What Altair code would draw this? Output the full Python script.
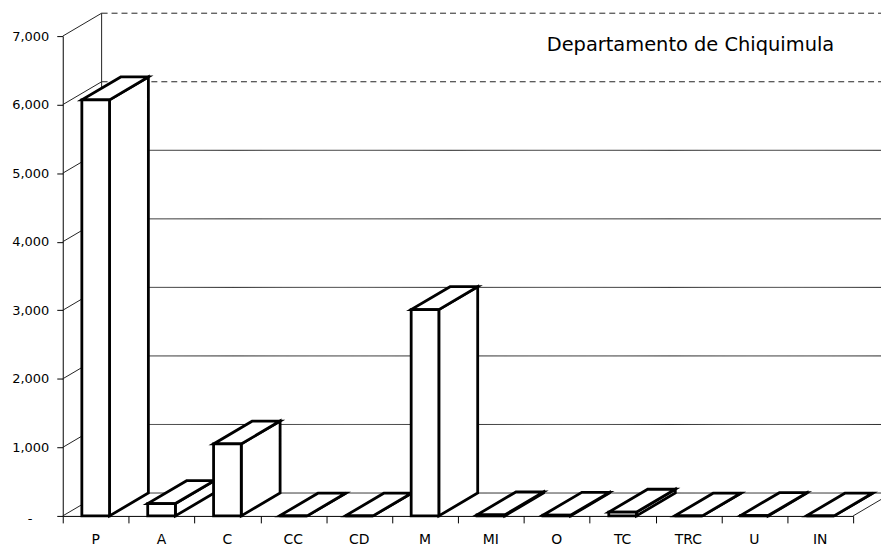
import altair as alt
import pandas as pd

# ---- data ----
categories = ["P", "A", "C", "CC", "CD", "M", "MI", "O", "TC", "TRC", "U", "IN"]
values = [6070, 180, 1050, 0, 0, 3010, 15, 10, 55, 0, 5, 0]
y_ticks = [0, 1000, 2000, 3000, 4000, 5000, 6000, 7000]
title_text = "Departamento de Chiquimula"

# ---- 3D style constants (depth expressed in scale units) ----
DX = 0.59      # depth along x (category units)
DY = 334       # depth along y (value units)
HW = 0.21      # half width of a bar front face (category units)
NCAT = len(categories)
YMAX = 7000

FONT = "DejaVu Sans"

xs = alt.Scale(domain=[0, NCAT], nice=False, zero=False)
ys = alt.Scale(domain=[0, YMAX], nice=False, zero=False)

x_axis = alt.Axis(values=list(range(NCAT + 1)), labels=False, tickSize=7,
                  tickColor="black", domainColor="black", domainWidth=1,
                  tickWidth=1, grid=False, title=None)
y_axis = alt.Axis(values=y_ticks, tickSize=6,
                  labelPadding=alt.condition("datum.value == 0", alt.value(25), alt.value(8)),
                  labelOffset=alt.condition("datum.value == 0", alt.value(3), alt.value(0)),
                  labelExpr="datum.value == 0 ? '-' : format(datum.value, ',')",
                  labelFont=FONT, labelFontSize=13, labelColor="black",
                  tickColor="black", domainColor="black", domainWidth=1,
                  grid=False, title=None)

# ---- tables built from the arrays ----
bars = pd.DataFrame({"name": categories, "value": values, "i": range(NCAT)})
bars["xl"] = bars["i"] + 0.5 - HW
bars["xr"] = bars["i"] + 0.5 + HW
bars["xc"] = bars["i"] + 0.5
bars["zero"] = 0

side_rows, top_rows = [], []
for name, v, xl, xr in zip(bars["name"], bars["value"], bars["xl"], bars["xr"]):
    side_rows.append({"name": name, "x": xr, "y": v, "y2": 0})
    side_rows.append({"name": name, "x": xr + DX, "y": v + DY, "y2": DY})
    top_rows.append({"name": name, "y": v, "x": xl, "x2": xr})
    top_rows.append({"name": name, "y": v + DY, "x": xl + DX, "x2": xr + DX})
side = pd.DataFrame(side_rows)
top = pd.DataFrame(top_rows)

walls = pd.DataFrame({"v": y_ticks})
walls["vb"] = walls["v"] + DY
walls["x0"] = 0.0
walls["xb"] = DX
walls["xe"] = NCAT + DX + 0.2

LINE = "#222222"

# back-wall gridlines
back_grid = alt.Chart(walls).mark_rule(color=LINE, strokeWidth=1).encode(
    x=alt.X("xb:Q", scale=xs, axis=x_axis),
    x2="xe:Q",
    y=alt.Y("vb:Q", scale=ys, axis=y_axis),
    strokeDash=alt.condition("datum.v >= 6000", alt.value([6, 4]), alt.value([1, 0])),
)

# left-wall diagonals at each tick
left_diag = alt.Chart(walls).mark_rule(color=LINE, strokeWidth=1).encode(
    x=alt.X("x0:Q", scale=xs, axis=x_axis),
    x2="xb:Q",
    y=alt.Y("v:Q", scale=ys, axis=y_axis),
    y2="vb:Q",
)

# back-left vertical edge of the wall
edge = pd.DataFrame({"x": [DX], "y": [DY], "y2": [YMAX + DY]})
left_back = alt.Chart(edge).mark_rule(color=LINE, strokeWidth=1).encode(
    x=alt.X("x:Q", scale=xs, axis=x_axis),
    y=alt.Y("y:Q", scale=ys, axis=y_axis),
    y2="y2:Q",
)

# floor right diagonal
floor = pd.DataFrame({"x": [float(NCAT)], "x2": [NCAT + DX], "y": [0], "y2": [DY]})
floor_diag = alt.Chart(floor).mark_rule(color=LINE, strokeWidth=1).encode(
    x=alt.X("x:Q", scale=xs, axis=x_axis),
    x2="x2:Q",
    y=alt.Y("y:Q", scale=ys, axis=y_axis),
    y2="y2:Q",
)

BAR_STROKE = 2.8

side_faces = alt.Chart(side).mark_area(
    orient="vertical", fill="white", stroke="black", strokeWidth=BAR_STROKE,
    strokeJoin="miter", opacity=1).encode(
    x=alt.X("x:Q", scale=xs, axis=x_axis),
    y=alt.Y("y:Q", scale=ys, axis=y_axis),
    y2="y2:Q",
    detail="name:N",
)

top_faces = alt.Chart(top).mark_area(
    orient="horizontal", fill="white", stroke="black", strokeWidth=BAR_STROKE,
    strokeJoin="miter", opacity=1).encode(
    y=alt.Y("y:Q", scale=ys, axis=y_axis),
    x=alt.X("x:Q", scale=xs, axis=x_axis),
    x2="x2:Q",
    detail="name:N",
)

front_faces = alt.Chart(bars).mark_rect(
    fill="white", stroke="black", strokeWidth=BAR_STROKE, strokeJoin="miter").encode(
    x=alt.X("xl:Q", scale=xs, axis=x_axis),
    x2="xr:Q",
    y=alt.Y("zero:Q", scale=ys, axis=y_axis),
    y2="value:Q",
)

labels = alt.Chart(bars).mark_text(
    font=FONT, fontSize=14, dy=24, baseline="middle", align="center", color="black").encode(
    x=alt.X("xc:Q", scale=xs, axis=x_axis),
    y=alt.Y("zero:Q", scale=ys, axis=y_axis),
    text="name:N",
)

chart = alt.layer(
    back_grid, left_diag, left_back, floor_diag,
    side_faces, top_faces, front_faces, labels,
).properties(
    width=794,
    height=482,
    autosize=alt.AutoSizeParams(type="none"),
    padding={"left": 55, "top": 27, "right": 28, "bottom": 32},
    background="white",
    title=alt.TitleParams(
        title_text, anchor="end", frame="group", orient="top", offset=0,
        dx=-19, dy=58, baseline="alphabetic", font=FONT, fontSize=19.5,
        fontWeight="normal", color="black",
    ),
).configure_view(stroke=None)

chart.save("out.html", embed_options={"renderer": "svg", "actions": False})
